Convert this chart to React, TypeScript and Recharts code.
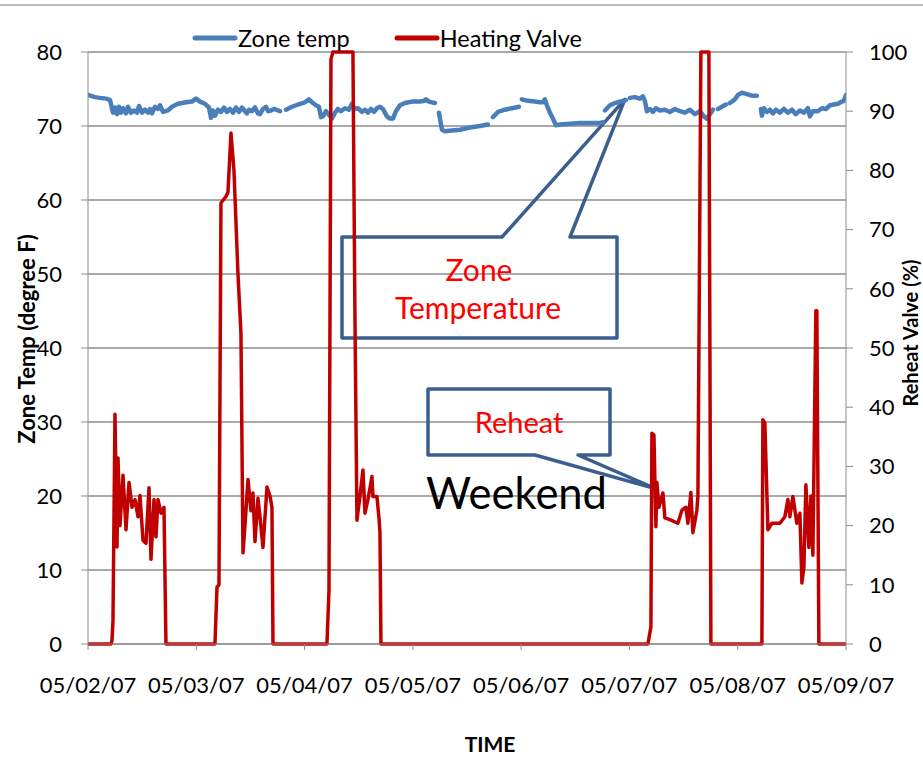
import React from 'react';
import { LineChart, Line, XAxis, YAxis, CartesianGrid, Legend, Customized } from 'recharts';

// Hours elapsed since 05/02/07 00:00 and the sampled zone temperature (degree F).
// A null marks a gap in the logged data.
const zoneHours = [
  0, 1.55, 2.66, 3.99, 4.88, 5.54, 5.98, 6.43, 6.87, 7.31, 7.76, 8.42, 8.86, 9.53, 10.19, 10.86,
  11.3, 11.97, 12.63, 13.3, 13.74, 14.18, 14.85, 15.51, 15.96, 16.62, 17.73, 18.61, 19.94, 21.72,
  23.05, 23.93, 24.82, 25.93, 26.81, 27.26, 27.7, 28.14, 28.81, 29.47, 30.14, 30.8, 31.47, 32.13,
  32.8, 33.46, 34.13, 34.79, 35.23, 35.68, 36.34, 37.01, 37.67, 38.12, 38.78, 39.45, 39.89, 40.55,
  41.22, 42.55, 43.21, 43.88, 45.21, 46.98, 48.09, 48.97, 49.86, 50.52, 51.19, 51.63, 52.08, 52.74,
  53.41, 54.07, 54.74, 55.4, 56.06, 56.95, 57.84, 58.5, 59.17, 59.83, 60.72, 61.38, 62.05, 62.71,
  63.38, 64.04, 64.71, 65.37, 66.26, 66.92, 67.59, 68.25, 69.14, 70.25, 71.8, 73.57, 74.46, 74.9,
  75.57, 76.23, 76.9, 77.34, 77.78, 78.45, 79.11, 80.66, 82.44, 84.65, 86.87, 88.64, 89.08, 89.75,
  90.86, 92.41, 93.96, 95.51, 95.95, 96.17, 97.5, 99.05, 100.16, 100.83, 101.27, 101.71, 102.38,
  103.04, 103.71, 104.6, 106.81, 109.03, 111.24, 113.46, 114.12, 114.35, 114.57, 115.68, 116.78,
  117.89, 119.22, 119.66, 120.11, 121.22, 122.32, 122.99, 123.43, 123.88, 124.54, 125.21, 125.87,
  126.76, 127.86, 128.97, 130.08, 131.19, 132.29, 133.4, 134.51, 135.62, 136.5, 137.17, 137.84,
  138.5, 139.16, 139.61, 140.49, 141.38, 141.82, 142.27, 143.38, 144.04, 144.93, 146.03, 147.14,
  148.25, 148.69, 149.14, 149.36, 149.8, 150.47, 151.13, 151.8, 152.46, 153.35, 154.23, 155.12,
  156.01, 156.89, 157.78, 158.67, 159.55, 160.0, 160.66, 161.77, 162.65, 163.54, 164.43, 165.31,
  166.2, 167.09, 167.53, 168,
];
const zoneTemp: (number | null)[] = [
  74.2, 73.9, 73.8, 73.7, 73.5, 71.8, 72.5, 71.6, 72.6, 71.8, 72.4, 71.7, 72.6, 71.8, 72.1, 71.8,
  72.7, 71.8, 72.2, 71.8, 72.3, 71.7, 72.6, 72.3, 72.8, 71.9, 72.1, 72.6, 73.0, 73.2,
  73.3, 73.7, 73.3, 73.0, 72.5, 71.1, 72.1, 71.4, 72.2, 71.9, 72.5, 71.9, 72.3, 71.8,
  72.5, 71.9, 72.5, 72.0, 71.7, 72.2, 72.0, 72.5, 71.7, 71.6, 72.3, 72.6, 72.0, 72.1,
  72.3, 72.0, null, 72.2, 72.6, 73.0, 73.2, 73.6, 73.1, 72.8, 72.6, 71.2, 71.3, 72.0,
  71.5, 71.0, 71.8, 72.3, 72.0, 72.4, 72.2, 73.0, 72.3, 72.4, 71.9, 72.2, 71.8, 72.3,
  71.9, 72.4, 72.6, 72.3, 71.3, 71.0, 71.0, 72.0, 72.8, 73.1, 73.3, 73.3, 73.4, 73.6,
  73.3, 73.2, 73.1, null, 71.8, 69.5, 69.3, 69.4, 69.5, 69.8, 70.0, 70.2, null, 71.2,
  71.9, 72.2, 72.4, 72.6, null, 73.6, 73.4, 73.3, 73.2, 73.2, 73.6, 72.8, 71.8,
  71.0, 70.1, 70.2, 70.3, 70.4, 70.4, 70.4, 70.5, null, 72.1, 72.8, 73.1,
  73.3, 73.5, null, 73.8, 73.9, 73.7, 74.0, 73.4, 72.0, 72.3, 71.9, 72.4,
  72.1, 72.2, 71.9, 72.3, 72.0, 71.8, 72.2, 71.6, 72.0, 71.3, 71.0, 71.6,
  72.2, null, 72.3, 72.6, 72.9, null, 73.1, 73.6, 74.2, 74.5, 74.3, 74.1,
  74.1, null, 72.3, 71.4, 72.4, 71.9, 72.2, 71.7, 72.2, 71.8, 72.3, 71.8,
  72.2, 71.6, 72.1, 71.8, 72.4, 71.3, 72.0, 72.0, 72.4, 72.3, 72.8, 72.9,
  73.0, 73.3, 73.4, 74.2,
];

// Hours elapsed since 05/02/07 00:00 and the reheat (heating) valve position in %.
const valveHours = [
  0, 5.1, 5.32, 5.54, 5.98, 6.43, 6.65, 7.09, 7.76, 8.42, 9.09, 9.75, 10.42, 11.08, 11.52, 12.19,
  12.85, 13.52, 13.96, 14.63, 15.07, 15.51, 16.18, 16.84, 17.28,
  28.14, 28.59, 29.03, 29.47, 30.58, 31.02, 31.69, 32.35, 33.24, 33.9, 34.35, 34.79, 35.46, 36.12,
  36.56, 37.01, 37.67, 38.12, 38.78, 39.67, 40.33, 40.77, 41.0,
  52.96, 53.41, 53.85, 54.29, 58.06, 58.72, 59.17, 59.61, 60.28, 60.94, 61.38, 62.05, 62.49, 62.93,
  63.16, 64.04, 64.49, 64.71, 64.93,
  124.1, 124.76, 124.98, 125.43, 125.87, 126.09, 126.53, 127.42, 127.86, 128.97, 130.74, 131.63,
  132.52, 132.96, 133.62, 134.07, 134.95, 135.18, 135.84, 137.61, 138.06,
  149.36, 149.58, 150.02, 150.69, 151.57, 153.35, 154.45, 155.12, 155.56, 156.23, 157.11, 157.78,
  158.22, 158.67, 159.11, 159.77, 160.22, 160.66, 161.32, 161.54, 161.99, 168,
];
const valvePct = [
  0, 0, 0.6, 4, 38.8, 16.4, 31.4, 20, 28.5, 19.3, 27.3, 23.1, 24.4, 21.5, 25.1, 17.5,
  17, 26.4, 14.3, 24.4, 18.1, 24.4, 22.1, 23.1, 0,
  0, 9.6, 10, 74.5, 75.6, 76.3, 86.3, 80, 62.5, 52.5, 15.4, 20, 27.8, 22.5,
  25.5, 17.3, 24.6, 21.5, 16.3, 26.5, 25, 23.1, 0,
  0, 9.1, 98.8, 100, 100, 100, 55, 20.9, 25, 29.4, 22.1, 24.4, 26.3, 28.3,
  24.9, 24.9, 21.3, 18.8, 0,
  0, 2.9, 35.6, 35.3, 19.8, 27.3, 23.1, 25.5, 21.3, 21, 20.4, 22.6,
  23.1, 20.4, 25.6, 18.8, 22.6, 25, 100, 100, 0,
  0, 37.9, 37.3, 19.3, 20.4, 20.4, 21.5, 24.4, 21.5, 24.9, 20.4, 22.1,
  10.3, 13, 26.9, 16.3, 25, 15, 56.3, 56.3, 0, 0,
];

const dayTicks = [0, 24, 48, 72, 96, 120, 144, 168];
const dayLabels = ['05/02/07', '05/03/07', '05/04/07', '05/05/07', '05/06/07', '05/07/07', '05/08/07', '05/09/07'];
const tempTicks = [0, 10, 20, 30, 40, 50, 60, 70, 80];
const valveTicks = [0, 10, 20, 30, 40, 50, 60, 70, 80, 90, 100];

const zoneData = zoneHours.map((h, i) => ({ h, temp: zoneTemp[i] }));
const valveData = valveHours.map((h, i) => ({ h, valve: valvePct[i] }));

const FONT = 'Lato, "Open Sans", sans-serif';
const W = 923;
const H = 774;
const MARGIN = { top: 52, right: 17, bottom: 70, left: 28 };
const AXIS_W = 60;
const X_AXIS_H = 60;
const PLOT = {
  left: MARGIN.left + AXIS_W,
  top: MARGIN.top,
  width: W - MARGIN.left - MARGIN.right - 2 * AXIS_W,
  height: H - MARGIN.top - MARGIN.bottom - X_AXIS_H,
};
const toX = (h: number) => PLOT.left + (h / 168) * PLOT.width;
const toYTemp = (v: number) => PLOT.top + (1 - v / 80) * PLOT.height;
const toYValve = (v: number) => PLOT.top + (1 - v / 100) * PLOT.height;

const BLUE = '#4A7EBB';
const RED = '#C00000';
const CALLOUT = '#3A5F8E';

function Annotations() {
  // pointer tips sit on the series they describe
  const zTipX = toX(119.0);
  const zTipY = toYTemp(73.6);
  const rTipX = toX(125.9);
  const rTipY = toYValve(26.2);
  return (
    <g>
      <line x1={0} x2={W} y1={5} y2={5} stroke="#A6A6A6" strokeWidth={1.5} />
      <path
        d={`M342,237 H502 L${zTipX},${zTipY} L570,237 H617 V338 H342 Z`}
        fill="none"
        stroke={CALLOUT}
        strokeWidth={3.5}
        strokeLinejoin="round"
      />
      <text x={479} y={281} textAnchor="middle" fontFamily={FONT} fontSize={30} fill="#FF0000">Zone</text>
      <text x={478} y={319} textAnchor="middle" fontFamily={FONT} fontSize={30} fill="#FF0000">Temperature</text>
      <path
        d={`M428,389 H610 V455 H578 L${rTipX},${rTipY} L535,455 H428 Z`}
        fill="none"
        stroke={CALLOUT}
        strokeWidth={3.5}
        strokeLinejoin="round"
      />
      <text x={519} y={433} textAnchor="middle" fontFamily={FONT} fontSize={29} fill="#FF0000">Reheat</text>
      <text x={426} y={509} fontFamily={FONT} fontSize={43.5} fill="#000">Weekend</text>
      <text
        transform={`translate(35,${339}) rotate(-90)`}
        textAnchor="middle"
        fontFamily={FONT}
        fontWeight="bold"
        fontSize={22}
        fill="#000"
      >
        Zone Temp (degree F)
      </text>
      <text
        transform={`translate(918,${333}) rotate(-90)`}
        textAnchor="middle"
        fontFamily={FONT}
        fontWeight="bold"
        fontSize={20}
        fill="#000"
      >
        Reheat Valve (%)
      </text>
      <text x={490} y={752} textAnchor="middle" fontFamily={FONT} fontWeight="bold" fontSize={21} fill="#000">TIME</text>
    </g>
  );
}

function LegendContent() {
  const item = (color: string, label: string, gap: number) => (
    <div style={{ display: 'flex', alignItems: 'center', marginRight: gap }}>
      <svg width={46} height={10} style={{ marginRight: 0 }}>
        <line x1={3} x2={43} y1={5} y2={5} stroke={color} strokeWidth={5} strokeLinecap="round" />
      </svg>
      <span>{label}</span>
    </div>
  );
  return (
    <div style={{ display: 'flex', fontFamily: FONT, fontSize: 23.5, color: '#000', lineHeight: '26px' }}>
      {item(BLUE, 'Zone temp', 44)}
      {item(RED, 'Heating Valve', 0)}
    </div>
  );
}

export default function App() {
  const tick = { fontSize: 22, fill: '#000', fontFamily: FONT };
  return (
    <div style={{ position: 'absolute', left: 0, top: 0, background: '#fff' }}>
      <LineChart width={W} height={H} margin={MARGIN}>
        <CartesianGrid yAxisId="temp" vertical={false} stroke="#8C8C8C" strokeWidth={1.3} />
        <XAxis
          type="number"
          dataKey="h"
          domain={[0, 168]}
          ticks={dayTicks}
          tickFormatter={(v: number) => dayLabels[dayTicks.indexOf(v)]}
          height={X_AXIS_H}
          tick={tick}
          tickSize={6}
          tickMargin={27}
          stroke="#8C8C8C"
          interval={0}
          allowDataOverflow
        />
        <YAxis
          yAxisId="temp"
          domain={[0, 80]}
          ticks={tempTicks}
          width={AXIS_W}
          tick={tick}
          tickSize={7}
          tickMargin={19}
          stroke="#8C8C8C"
          interval={0}
        />
        <YAxis
          yAxisId="valve"
          orientation="right"
          domain={[0, 100]}
          ticks={valveTicks}
          width={AXIS_W}
          tick={tick}
          tickSize={7}
          tickMargin={16}
          stroke="#8C8C8C"
          interval={0}
        />
        <Legend
          layout="horizontal"
          verticalAlign="middle"
          align="center"
          content={<LegendContent />}
          wrapperStyle={{ position: 'absolute', top: 25, left: 192, width: 'auto', height: 'auto' }}
        />
        <Line
          yAxisId="temp"
          data={zoneData}
          dataKey="temp"
          name="Zone temp"
          type="linear"
          stroke={BLUE}
          strokeWidth={4.5}
          strokeLinecap="round"
          strokeLinejoin="round"
          dot={false}
          isAnimationActive={false}
        />
        <Line
          yAxisId="valve"
          data={valveData}
          dataKey="valve"
          name="Heating Valve"
          type="linear"
          stroke={RED}
          strokeWidth={3.5}
          strokeLinejoin="round"
          dot={false}
          isAnimationActive={false}
        />
        <Customized component={Annotations} />
      </LineChart>
    </div>
  );
}
